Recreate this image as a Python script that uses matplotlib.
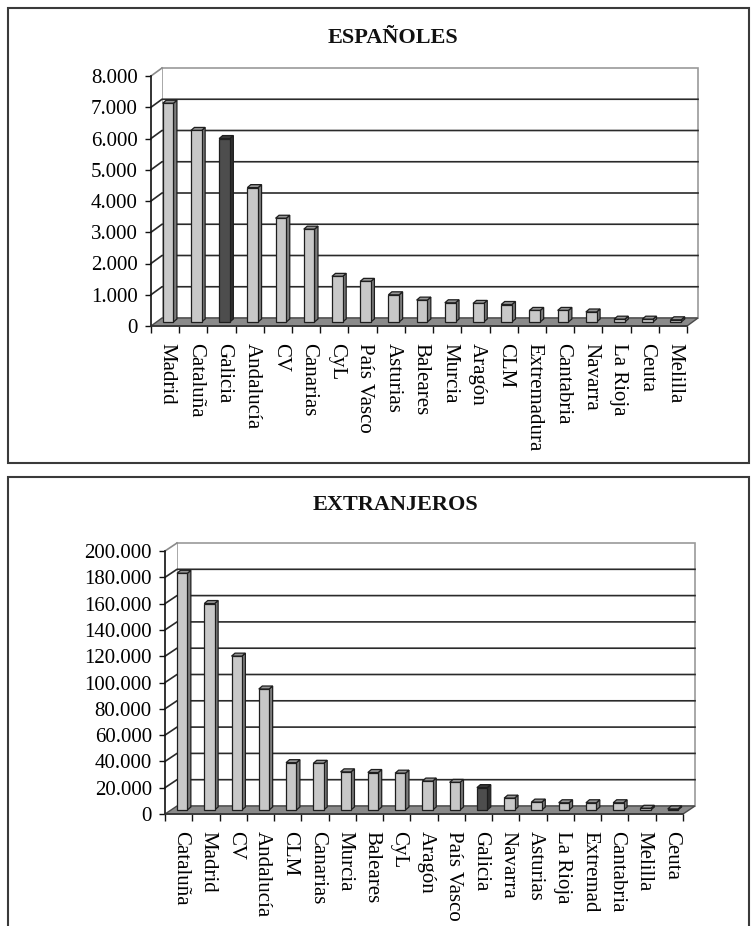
import matplotlib
matplotlib.use("Agg")
import matplotlib.pyplot as plt
from matplotlib.patches import Polygon, Rectangle
from matplotlib.lines import Line2D
from matplotlib.ticker import FixedLocator, FuncFormatter

# ---------------- data ----------------
es_regions = ["Madrid", "Cataluña", "Galicia", "Andalucía", "CV", "Canarias",
              "CyL", "País Vasco", "Asturias", "Baleares", "Murcia", "Aragón",
              "CLM", "Extremadura", "Cantabria", "Navarra", "La Rioja", "Ceuta",
              "Melilla"]
es_values = [7000, 6130, 5870, 4300, 3320, 2970, 1460, 1300, 870, 700, 615,
             595, 560, 370, 370, 320, 90, 90, 70]

ex_regions = ["Cataluña", "Madrid", "CV", "Andalucía", "CLM", "Canarias",
              "Murcia", "Baleares", "CyL", "Aragón", "País Vasco", "Galicia",
              "Navarra", "Asturias", "La Rioja", "Extremad", "Cantabria",
              "Melilla", "Ceuta"]
ex_values = [180000, 157000, 117000, 92000, 36000, 35500, 29000, 28500, 28000,
             22000, 21000, 17000, 9000, 6000, 5500, 5500, 5500, 1300, 800]

es_ticks = [0, 1000, 2000, 3000, 4000, 5000, 6000, 7000, 8000]
ex_ticks = [0, 20000, 40000, 60000, 80000, 100000, 120000, 140000, 160000,
            180000, 200000]

highlight = "Galicia"

# ---------------- style ----------------
W, H, DPI = 751, 926, 100
plt.rcParams["font.family"] = ["Liberation Serif", "DejaVu Serif"]
TICK_FS = 15
TITLE_FS = 16

FRONT = "#c8c8c8"
SIDE = "#7c7c7c"
TOP = "#969696"
HI_FRONT = "#4d4d4d"
HI_SIDE = "#303030"
HI_TOP = "#3a3a3a"
FLOOR = "#8a8a8a"
EDGE = "#1e1e1e"

fig = plt.figure(figsize=(W / DPI, H / DPI), dpi=DPI)


def px_rect(left, right, bottom, top):
    """Axes rectangle from pixel edges measured from the top-left corner."""
    return [left / W, 1 - bottom / H, (right - left) / W, (bottom - top) / H]


def dotted_thousands(v, pos=None):
    return f"{int(round(v)):,}".replace(",", ".")


def draw_panel(ax, cats, vals, ticks, depth=(11, 8), bar_depth=(3.5, 3),
               bar_off=0.22, bar_w=0.38):
    n = len(cats)
    ymax = ticks[-1]
    ax.set_xlim(0, n)
    ax.set_ylim(0, ymax)
    pos = ax.get_position()
    sx = n / (pos.width * W)        # data units per pixel (x)
    sy = ymax / (pos.height * H)    # data units per pixel (y)
    ddx, ddy = depth[0] * sx, depth[1] * sy
    bdx, bdy = bar_depth[0] * sx, bar_depth[1] * sy

    kw = dict(clip_on=False)
    # back wall and left side wall
    ax.add_patch(Rectangle((ddx, ddy), n, ymax, facecolor="white",
                           edgecolor="#9a9a9a", lw=1.2, zorder=1, **kw))
    ax.add_patch(Polygon([(0, 0), (ddx, ddy), (ddx, ymax + ddy), (0, ymax)],
                         closed=True, facecolor="white", edgecolor="none",
                         zorder=1, **kw))
    ax.add_line(Line2D([0, ddx], [ymax, ymax + ddy], color="#8a8a8a", lw=1.2,
                       zorder=2, **kw))
    # gridlines on side wall and back wall
    for t in ticks[1:-1]:
        ax.add_line(Line2D([0, ddx, n + ddx], [t, t + ddy, t + ddy],
                           color="#2a2a2a", lw=1.2, zorder=2, **kw))
    # floor
    ax.add_patch(Polygon([(0, 0), (n, 0), (n + ddx, ddy), (ddx, ddy)],
                         closed=True, facecolor=FLOOR, edgecolor="#4a4a4a",
                         lw=1.0, zorder=3, **kw))

    # bars
    for i, (c, v) in enumerate(zip(cats, vals)):
        hi = c == highlight
        fc, sc, tc = (HI_FRONT, HI_SIDE, HI_TOP) if hi else (FRONT, SIDE, TOP)
        x0 = i + bar_off + ddx / 2
        y0 = ddy / 2
        x1 = x0 + bar_w
        ax.add_patch(Polygon([(x1, y0), (x1 + bdx, y0 + bdy),
                              (x1 + bdx, y0 + v + bdy), (x1, y0 + v)],
                             closed=True, facecolor=sc, edgecolor=EDGE,
                             lw=0.9, zorder=4, **kw))
        ax.add_patch(Polygon([(x0, y0 + v), (x1, y0 + v),
                              (x1 + bdx, y0 + v + bdy), (x0 + bdx, y0 + v + bdy)],
                             closed=True, facecolor=tc, edgecolor=EDGE,
                             lw=0.9, zorder=4, **kw))
        ax.add_patch(Rectangle((x0, y0), bar_w, v, facecolor=fc,
                               edgecolor=EDGE, lw=0.9, zorder=5, **kw))

    # axes frame: left axis line and front floor edge
    for s in ("top", "right"):
        ax.spines[s].set_visible(False)
    ax.spines["left"].set_color("#111111")
    ax.spines["left"].set_linewidth(1.2)
    ax.spines["bottom"].set_color("#333333")
    ax.spines["bottom"].set_linewidth(1.2)
    ax.spines["left"].set_zorder(6)
    ax.spines["bottom"].set_zorder(6)
    ax.patch.set_visible(False)

    ax.yaxis.set_major_locator(FixedLocator(ticks))
    ax.yaxis.set_major_formatter(FuncFormatter(dotted_thousands))
    ax.tick_params(axis="y", direction="out", length=4.5, width=1.0,
                   color="#111111", pad=5, labelsize=TICK_FS)

    ax.xaxis.set_major_locator(FixedLocator(range(n + 1)))
    ax.set_xticklabels([""] * (n + 1))
    ax.xaxis.set_minor_locator(FixedLocator([i + 0.58 for i in range(n)]))
    ax.set_xticklabels(cats, minor=True, rotation=-90, va="top", ha="center",
                       fontsize=TICK_FS)
    ax.tick_params(axis="x", which="major", direction="out", length=5,
                   width=1.0, color="#111111")
    ax.tick_params(axis="x", which="minor", length=0, pad=12)


# panel frames
fig.add_artist(Rectangle((8 / W, 1 - 463 / H), 741 / W, 455 / H,
                         transform=fig.transFigure, fill=False,
                         edgecolor="#3a3a3a", lw=1.5))
fig.add_artist(Rectangle((8 / W, 1 - 940 / H), 741 / W, 463 / H,
                         transform=fig.transFigure, fill=False,
                         edgecolor="#3a3a3a", lw=1.5))

fig.text(393 / W, 1 - 38 / H, "ESPAÑOLES", ha="center", va="center",
         fontsize=TITLE_FS, fontweight="bold", color="#111111")
fig.text(395 / W, 1 - 505 / H, "EXTRANJEROS", ha="center", va="center",
         fontsize=TITLE_FS, fontweight="bold", color="#111111")

ax_es = fig.add_axes(px_rect(151, 687, 326, 76))
draw_panel(ax_es, es_regions, es_values, es_ticks)

ax_ex = fig.add_axes(px_rect(165, 683, 814, 551))
draw_panel(ax_ex, ex_regions, ex_values, ex_ticks, depth=(12, 8))

fig.savefig("out.png", dpi=DPI)
